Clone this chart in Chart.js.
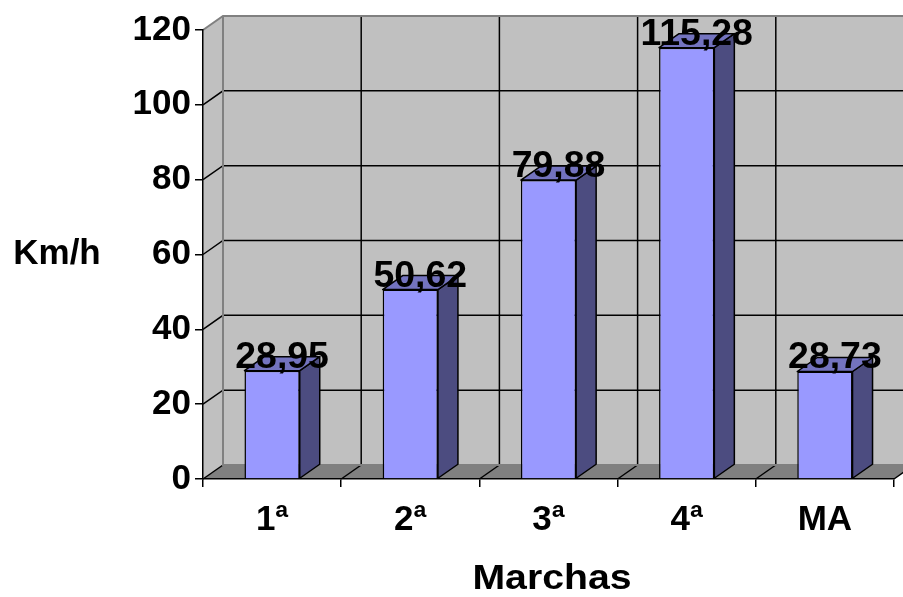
<!DOCTYPE html>
<html>
<head>
<meta charset="utf-8">
<script src="https://cdn.jsdelivr.net/npm/chart.js@4.4.0/dist/chart.umd.min.js"></script>
<style>
  html, body { margin: 0; padding: 0; background: #ffffff; }
  #wrap { width: 903px; height: 597px; }
</style>
</head>
<body>
<div id="wrap"><canvas id="c" width="903" height="597"></canvas></div>
<script>
// Speed reached in each gear
const categories = ['1ª', '2ª', '3ª', '4ª', 'MA'];
const speeds = [28.95, 50.62, 79.88, 115.28, 28.73];
const yTicks = [0, 20, 40, 60, 80, 100, 120];
const yTitle = 'Km/h';
const xTitle = 'Marchas';

const FONT = '"Liberation Sans", Arial, Helvetica, sans-serif';
const DEPTH_X = 20;   // depth offset of the 3D box, px
const DEPTH_Y = -14;
const WALL = '#c0c0c0';
const FLOOR = '#808080';
const EDGE = '#808080';
const FRONT = '#9999ff';
const TOP = '#7373bf';
const SIDE = '#4c4c80';
const LINE_W = 1.5;

const fmt = v => v.toFixed(2).replace('.', ',');

function line(ctx, pts) {
  ctx.beginPath();
  ctx.moveTo(pts[0][0], pts[0][1]);
  for (let i = 1; i < pts.length; i++) ctx.lineTo(pts[i][0], pts[i][1]);
  ctx.stroke();
}
function poly(ctx, pts, fill, stroke) {
  ctx.beginPath();
  ctx.moveTo(pts[0][0], pts[0][1]);
  for (let i = 1; i < pts.length; i++) ctx.lineTo(pts[i][0], pts[i][1]);
  ctx.closePath();
  ctx.fillStyle = fill;
  ctx.fill();
  if (stroke) { ctx.strokeStyle = stroke; ctx.stroke(); }
}
// bold text, widened a little horizontally
function wideText(ctx, text, x, y, size, stretch) {
  ctx.save();
  ctx.font = 'bold ' + size + 'px ' + FONT;
  ctx.textAlign = 'center';
  ctx.textBaseline = 'middle';
  ctx.translate(x, y);
  ctx.scale(stretch, 1);
  ctx.fillText(text, 0, 0);
  ctx.restore();
}

// Back wall, side wall, floor and their grid lines
const box3d = {
  id: 'box3d',
  beforeDraw(chart) {
    const { ctx, scales: { x, y } } = chart;
    const dx = DEPTH_X, dy = DEPTH_Y;
    const y0 = y.getPixelForValue(y.min);
    const yT = y.getPixelForValue(y.max);
    const half = (x.getPixelForValue(1) - x.getPixelForValue(0)) / 2;
    const bounds = categories.map((_, i) => x.getPixelForValue(i) - half);
    bounds.push(x.getPixelForValue(categories.length - 1) + half);
    const L = bounds[0], R = bounds[bounds.length - 1];

    ctx.save();
    ctx.lineWidth = LINE_W;
    // walls and floor
    poly(ctx, [[L + dx, yT + dy], [R + dx, yT + dy], [R + dx, y0 + dy], [L + dx, y0 + dy]], WALL);
    poly(ctx, [[L, yT], [L + dx, yT + dy], [L + dx, y0 + dy], [L, y0]], WALL);
    poly(ctx, [[L, y0], [R, y0], [R + dx, y0 + dy], [L + dx, y0 + dy]], FLOOR);

    // horizontal grid lines
    ctx.strokeStyle = '#000000';
    y.ticks.forEach(t => {
      if (t.value <= y.min || t.value >= y.max) return;
      const py = y.getPixelForValue(t.value);
      line(ctx, [[L, py], [L + dx, py + dy], [R + dx, py + dy]]);
    });
    // vertical grid lines on the back wall and their floor lines
    bounds.forEach((bx, i) => {
      if (i > 0) line(ctx, [[bx + dx, yT + dy], [bx + dx, y0 + dy]]);
      line(ctx, [[bx, y0], [bx + dx, y0 + dy]]);
    });

    // box edges
    ctx.strokeStyle = EDGE;
    ctx.lineWidth = 2;
    line(ctx, [[L, yT], [L + dx, yT + dy], [R + dx, yT + dy]]);
    line(ctx, [[L + dx, yT + dy], [L + dx, y0 + dy], [R + dx, y0 + dy]]);
    ctx.restore();
  }
};

// Top and side faces of the columns plus the value labels
const columns3d = {
  id: 'columns3d',
  afterDatasetsDraw(chart) {
    const { ctx } = chart;
    const dx = DEPTH_X, dy = DEPTH_Y;
    const meta = chart.getDatasetMeta(0);
    ctx.save();
    ctx.lineWidth = LINE_W;
    ctx.lineJoin = 'round';
    meta.data.forEach(bar => {
      const { x: cx, y: top, base, width } = bar.getProps(['x', 'y', 'base', 'width'], true);
      const l = cx - width / 2, r = cx + width / 2;
      poly(ctx, [[r, top], [r + dx, top + dy], [r + dx, base + dy], [r, base]], SIDE, '#000000');
      poly(ctx, [[l, top], [r, top], [r + dx, top + dy], [l + dx, top + dy]], TOP, '#000000');
    });
    ctx.fillStyle = '#000000';
    meta.data.forEach((bar, i) => {
      const { x: cx, y: top } = bar.getProps(['x', 'y'], true);
      wideText(ctx, fmt(speeds[i]), cx + dx / 2, top + dy + 1, 36, 1.04);
    });
    ctx.restore();
  }
};

// Axis titles
const titles = {
  id: 'titles',
  afterDraw(chart) {
    const { ctx, chartArea: a } = chart;
    ctx.save();
    ctx.fillStyle = '#000000';
    wideText(ctx, yTitle, 57, (a.top + a.bottom) / 2, 35, 1.0);
    wideText(ctx, xTitle, 552, 579, 35, 1.12);
    ctx.restore();
  }
};

new Chart(document.getElementById('c'), {
  type: 'bar',
  data: {
    labels: categories,
    datasets: [{
      data: speeds,
      backgroundColor: FRONT,
      borderColor: '#000000',
      borderWidth: LINE_W,
      categoryPercentage: 1,
      barPercentage: 0.4
    }]
  },
  options: {
    responsive: false,
    animation: false,
    devicePixelRatio: 1,
    layout: { padding: { top: 30, right: 9, left: 0, bottom: 0 } },
    plugins: { legend: { display: false }, tooltip: { enabled: false } },
    scales: {
      x: {
        grid: { drawOnChartArea: false, drawTicks: true, tickLength: 8, color: '#000000', lineWidth: LINE_W, offset: true },
        border: { display: true, color: '#000000', width: LINE_W },
        ticks: { color: '#000000', font: { family: FONT, size: 35, weight: 'bold' }, padding: 12, maxRotation: 0 },
        afterFit: s => { s.height = 118; }
      },
      y: {
        min: 0,
        max: 120,
        afterBuildTicks: s => { s.ticks = yTicks.map(v => ({ value: v })); },
        grid: { drawOnChartArea: false, drawTicks: true, tickLength: 8, color: '#000000', lineWidth: LINE_W },
        border: { display: true, color: '#000000', width: LINE_W },
        ticks: { color: '#000000', font: { family: FONT, size: 35, weight: 'bold' }, padding: 4 },
        afterFit: s => { s.width = 203; }
      }
    }
  },
  plugins: [box3d, columns3d, titles]
});
</script>
</body>
</html>
